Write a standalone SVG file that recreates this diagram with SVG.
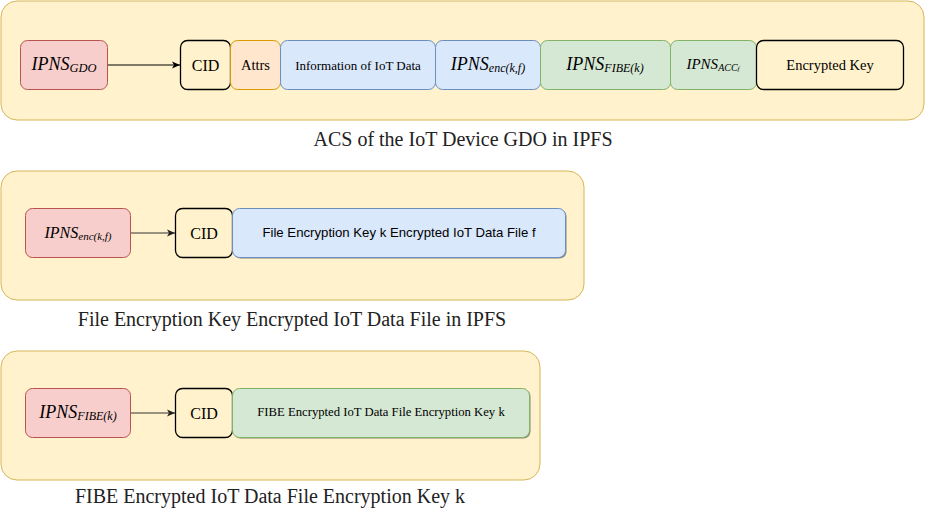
<svg xmlns="http://www.w3.org/2000/svg" width="925" height="512" viewBox="0 0 925 512">
<style>
.cont{fill:#fff2cc;stroke:#d6b656;stroke-width:1}
.red{fill:#f8cecc;stroke:#b85450;stroke-width:1}
.yel{fill:#fff2cc;stroke:#000;stroke-width:1.3}
.org{fill:#ffe6cc;stroke:#d79b00;stroke-width:1}
.blu{fill:#dae8fc;stroke:#6c8ebf;stroke-width:1}
.grn{fill:#d5e8d4;stroke:#82b366;stroke-width:1}
.shd{fill:#555;opacity:0.7}
.t{font-family:'Liberation Serif','DejaVu Serif',serif;fill:#000;text-anchor:middle;dominant-baseline:central}
.m{font-family:'Liberation Serif','DejaVu Serif',serif;font-style:italic;fill:#000;text-anchor:middle;dominant-baseline:central}
.s{font-family:'Liberation Sans',Arial,sans-serif;fill:#000;text-anchor:middle;dominant-baseline:central}
.cap{font-family:'Liberation Serif','DejaVu Serif',serif;fill:#222;text-anchor:middle;font-size:20px}
.ln{stroke:#000;stroke-width:1.2;fill:none}
.ln2{stroke:#333;stroke-width:1.2;fill:none}
</style>
<defs>
<marker id="ah" markerWidth="10" markerHeight="10" refX="9" refY="5" orient="auto" markerUnits="userSpaceOnUse">
<path d="M1,1.5 L9,5 L1,8.5 L3,5 Z" fill="#000"/>
</marker>
<marker id="ah2" markerWidth="10" markerHeight="10" refX="9" refY="5" orient="auto" markerUnits="userSpaceOnUse">
<path d="M1,1.5 L9,5 L1,8.5 L3,5 Z" fill="#222"/>
</marker>
</defs>

<g id="container-acs">
<rect class="cont" x="1" y="1" width="923" height="119" rx="16"/>
<text class="cap" x="463" y="146">ACS of the IoT Device GDO in IPFS</text>
</g>
<g id="container-file">
<rect class="cont" x="1" y="171" width="583" height="129" rx="16"/>
<text class="cap" x="292" y="326">File Encryption Key Encrypted IoT Data File in IPFS</text>
</g>
<g id="container-fibe">
<rect class="cont" x="1" y="351" width="539" height="129" rx="16"/>
<text class="cap" x="270" y="503">FIBE Encrypted IoT Data File Encryption Key k</text>
</g>

<g id="ipns-gdo">
<rect class="red" x="20.5" y="40.5" width="87" height="49" rx="7"/>
<text class="m" x="64" y="64"><tspan font-size="18">IPNS</tspan><tspan font-size="12.5" dy="4">GDO</tspan></text>
</g>
<g id="cid1">
<rect class="yel" x="180.5" y="40.5" width="50" height="49" rx="7"/>
<text class="t" x="205.5" y="65" font-size="16">CID</text>
</g>
<g id="attrs">
<rect class="org" x="230.5" y="40.5" width="50" height="49" rx="7"/>
<text class="t" x="255.5" y="65" font-size="14.5">Attrs</text>
</g>
<g id="info">
<rect class="blu" x="280.5" y="40.5" width="155" height="49" rx="7"/>
<text class="t" x="358" y="65" font-size="13">Information of IoT Data</text>
</g>
<g id="ipns-enc1">
<rect class="blu" x="435.5" y="40.5" width="105" height="49" rx="7"/>
<text class="m" x="488" y="64"><tspan font-size="18">IPNS</tspan><tspan font-size="12" dy="4">enc(k,f)</tspan></text>
</g>
<g id="ipns-fibe1">
<rect class="grn" x="540.5" y="40.5" width="130" height="49" rx="7"/>
<text class="m" x="605" y="64"><tspan font-size="18">IPNS</tspan><tspan font-size="12" dy="4">FIBE(k)</tspan></text>
</g>
<g id="ipns-acc">
<rect class="grn" x="670.5" y="40.5" width="86" height="49" rx="7"/>
<text class="m" x="713" y="64"><tspan font-size="15">IPNS</tspan><tspan font-size="10" dy="3">ACC</tspan><tspan font-size="7" dy="2">f</tspan></text>
</g>
<g id="enc-key">
<rect class="yel" x="756.5" y="40.5" width="147" height="49" rx="7"/>
<text class="t" x="830" y="65" font-size="14.5">Encrypted Key</text>
</g>

<g id="ipns-enc2">
<rect class="red" x="25.5" y="208.5" width="105" height="49" rx="7"/>
<text class="m" x="78" y="232"><tspan font-size="16">IPNS</tspan><tspan font-size="11" dy="4">enc(k,f)</tspan></text>
</g>
<g id="cid2">
<rect class="yel" x="175.5" y="208.5" width="57" height="49" rx="7"/>
<text class="t" x="204" y="233" font-size="16">CID</text>
</g>
<g id="file-data">
<rect class="shd" x="233.5" y="209.5" width="333" height="49" rx="7"/>
<rect class="blu" x="232.5" y="208.5" width="333" height="49" rx="7"/>
<text class="s" x="399" y="232" font-size="13.2">File Encryption Key k Encrypted IoT Data File f</text>
</g>

<g id="ipns-fibe2">
<rect class="red" x="25.5" y="388.5" width="105" height="49" rx="7"/>
<text class="m" x="78" y="412"><tspan font-size="18">IPNS</tspan><tspan font-size="12" dy="4">FIBE(k)</tspan></text>
</g>
<g id="cid3">
<rect class="yel" x="175.5" y="388.5" width="57" height="49" rx="7"/>
<text class="t" x="204" y="413" font-size="16">CID</text>
</g>
<g id="fibe-data">
<rect class="shd" x="233.5" y="389.5" width="297" height="49" rx="7"/>
<rect class="grn" x="232.5" y="388.5" width="297" height="49" rx="7"/>
<text class="t" x="381" y="412" font-size="12.7">FIBE Encrypted IoT Data File Encryption Key k</text>
</g>

<g id="connectors">
<line class="ln" x1="108" y1="65" x2="180" y2="65" marker-end="url(#ah)"/>
<line class="ln2" x1="131" y1="233" x2="175" y2="233" marker-end="url(#ah2)"/>
<line class="ln2" x1="131" y1="413" x2="175" y2="413" marker-end="url(#ah2)"/>
</g>
</svg>
